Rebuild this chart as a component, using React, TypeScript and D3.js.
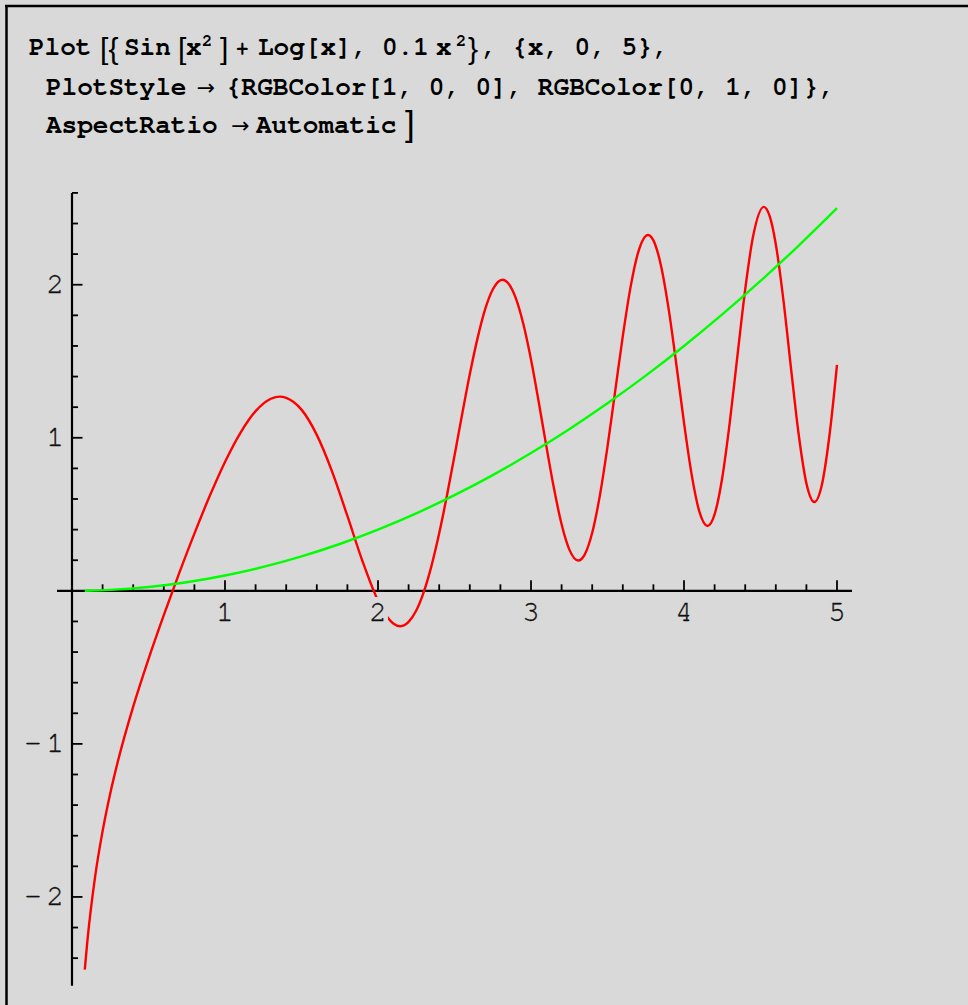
import { useRef, useEffect } from 'react'
import * as d3 from 'd3'

// Red series: Sin[x^2] + Log[x]
const redX = [
    0.0836, 0.1, 0.15, 0.2, 0.25, 0.3, 0.4, 0.5, 0.6, 0.7, 0.8, 0.9, 1.0, 1.1, 1.2, 1.3, 1.358, 1.4,
    1.5, 1.6, 1.7, 1.8, 1.9, 2.0, 2.05, 2.1, 2.146, 2.2, 2.25, 2.3, 2.35, 2.4, 2.45, 2.5, 2.55, 2.6,
    2.65, 2.7, 2.75, 2.814, 2.85, 2.9, 2.95, 3.0, 3.05, 3.1, 3.15, 3.2, 3.25, 3.309, 3.35, 3.4, 3.45,
    3.5, 3.55, 3.6, 3.65, 3.7, 3.765, 3.8, 3.85, 3.9, 3.95, 4.0, 4.05, 4.1, 4.153, 4.2, 4.25, 4.3,
    4.35, 4.4, 4.45, 4.522, 4.56, 4.6, 4.65, 4.7, 4.75, 4.8, 4.852, 4.9, 4.95, 5.0,
]
const redY = [
    -2.475, -2.293, -1.875, -1.570, -1.324, -1.114, -0.757, -0.446, -0.159, 0.114, 0.374, 0.619, 0.842,
    1.031, 1.174, 1.255, 1.269, 1.261, 1.184, 1.019, 0.779, 0.489, 0.190, -0.064, -0.155, -0.213,
    -0.231, -0.203, -0.129, -0.005, 0.165, 0.376, 0.619, 0.883, 1.154, 1.415, 1.648, 1.839, 1.969,
    2.033, 2.011, 1.914, 1.743, 1.511, 1.237, 0.947, 0.670, 0.435, 0.271, 0.198, 0.235, 0.379, 0.622,
    0.942, 1.303, 1.664, 1.981, 2.210, 2.325, 2.290, 2.123, 1.839, 1.479, 1.098, 0.759, 0.519, 0.424,
    0.500, 0.739, 1.107, 1.543, 1.970, 2.308, 2.509, 2.448, 2.265, 1.898, 1.449, 1.018, 0.702, 0.580,
    0.688, 1.010, 1.477,
]

// Green series: 0.1 x^2
const greenX = [0.0836, 0.25, 0.5, 0.75, 1.0, 1.25, 1.5, 1.75, 2.0, 2.25, 2.5, 2.75, 3.0, 3.25, 3.5, 3.75, 4.0, 4.25, 4.5, 4.75, 5.0]
const greenY = [0.0007, 0.0063, 0.025, 0.056, 0.1, 0.156, 0.225, 0.306, 0.4, 0.506, 0.625, 0.756, 0.9, 1.056, 1.225, 1.406, 1.6, 1.806, 2.025, 2.256, 2.5]

const xTickLabels = [1, 2, 3, 4, 5]
const yTickLabels = [-2, -1, 1, 2]

const MONO = 'Nimbus Mono PS, Nimbus Mono L, FreeMono, Courier New, Courier, Liberation Mono, monospace'
const SANS = 'Liberation Sans, Arial, sans-serif'
const ARROW = 'DejaVu Sans, sans-serif'
const BG = '#d9d9d9'

export default function App() {
    const svgRef = useRef<SVGSVGElement>(null)

    useEffect(() => {
        if (!svgRef.current) return
        const width = 968
        const height = 1005

        const svg = d3.select(svgRef.current)
        svg.selectAll('*').remove()
        svg.attr('width', width).attr('height', height)

        svg.append('rect').attr('width', width).attr('height', height).style('fill', BG)

        // cell frame
        svg.append('line').attr('x1', 5).attr('x2', width).attr('y1', 6).attr('y2', 6)
            .style('stroke', '#000').style('stroke-width', 2.5)
        svg.append('line').attr('x1', 6.5).attr('x2', 6.5).attr('y1', 5).attr('y2', height)
            .style('stroke', '#000').style('stroke-width', 2.5)

        // Input expression
        const t = svg.append('g').style('fill', '#000')
        const piece = (x: number, y: number, s: string, size: number, family = MONO, weight = 'bold') =>
            t.append('text').attr('x', x).attr('y', y).text(s)
                .style('font-family', family).style('font-size', `${size}px`).style('font-weight', weight)

        piece(29, 54.5, 'Plot', 26)
        piece(100, 58.7, '[', 30, SANS, 'normal')
        piece(108.5, 58.7, '{', 30, SANS, 'normal')
        piece(124, 54.5, 'Sin', 26)
        piece(178, 58.7, '[', 30, SANS, 'normal')
        piece(186, 54.5, 'x', 26)
        piece(202, 45.7, '2', 17)
        piece(220, 58.7, ']', 30, SANS, 'normal')
        piece(236, 55, '+', 21)
        piece(258, 54.5, 'Log[x],', 26)
        piece(382, 54.5, '0.1', 26)
        piece(436, 54.5, 'x', 26)
        piece(456, 45.7, '2', 17)
        piece(468, 58.7, '}', 30, SANS, 'normal')
        piece(481, 54.5, ', {x, 0, 5},', 26)

        piece(46, 95, 'PlotStyle', 26)
        piece(206, 95, '→', 22, ARROW, 'normal').attr('text-anchor', 'middle')
        piece(226, 95, '{RGBColor[1, 0, 0], RGBColor[0, 1, 0]},', 26)

        piece(46, 132.5, 'AspectRatio', 26)
        piece(240.5, 133, '→', 22, ARROW, 'normal').attr('text-anchor', 'middle')
        piece(256, 132.5, 'Automatic', 26)
        piece(405, 135.6, ']', 35, SANS, 'normal')

        // Scales
        const x = d3.scaleLinear().domain([-0.098, 5.098]).range([57, 852])
        const y = d3.scaleLinear().domain([-2.58, 2.6]).range([985.7, 192.9])

        const g = svg.append('g')

        // Axes lines
        g.append('line').attr('x1', x(-0.098)).attr('x2', x(5.098)).attr('y1', y(0)).attr('y2', y(0))
            .style('stroke', '#000').style('stroke-width', 2.2)
        g.append('line').attr('x1', x(0)).attr('x2', x(0)).attr('y1', y(2.6)).attr('y2', y(-2.58))
            .style('stroke', '#000').style('stroke-width', 2.2)

        const isMajor = (d: number) => Math.abs(d - Math.round(d)) < 1e-6

        // x ticks (pointing up)
        const xt = d3.range(1, 26).map(i => i / 5)
        g.selectAll('.xtick')
            .data(xt)
            .enter()
            .append('line')
            .attr('x1', d => x(d))
            .attr('x2', d => x(d))
            .attr('y1', y(0))
            .attr('y2', d => y(0) - (isMajor(d) ? 10.5 : 6.5))
            .style('stroke', '#000').style('stroke-width', 1.8)

        // y ticks (pointing right)
        const yt = d3.range(-12, 14).filter(i => i !== 0).map(i => i / 5)
        g.selectAll('.ytick')
            .data(yt)
            .enter()
            .append('line')
            .attr('y1', d => y(d))
            .attr('y2', d => y(d))
            .attr('x1', x(0))
            .attr('x2', d => x(0) + (isMajor(d) ? 10.5 : 6))
            .style('stroke', '#000').style('stroke-width', 1.8)

        // Curves
        const line = d3.line<[number, number]>()
            .x(d => x(d[0]))
            .y(d => y(d[1]))
            .curve(d3.curveMonotoneX)

        g.append('path')
            .datum(redX.map((v, i) => [v, redY[i]] as [number, number]))
            .attr('d', line)
            .style('fill', 'none').style('stroke', '#ff0000').style('stroke-width', 2.4)

        g.append('path')
            .datum(greenX.map((v, i) => [v, greenY[i]] as [number, number]))
            .attr('d', line)
            .style('fill', 'none').style('stroke', '#00ff00').style('stroke-width', 2.4)

        // x tick labels, with background boxes like the original
        g.selectAll('.xbg')
            .data(xTickLabels)
            .enter()
            .append('rect')
            .attr('x', d => x(d) - 10)
            .attr('y', 597)
            .attr('width', 20)
            .attr('height', 28)
            .style('fill', BG)

        const labelStyle = (sel: any) => sel
            .style('font-family', MONO)
            .style('font-size', '29px')
            .style('fill', '#111')
            .style('stroke', '#111')
            .style('stroke-width', 0.35)

        g.selectAll('.xlab')
            .data(xTickLabels)
            .enter()
            .append('text')
            .attr('x', d => x(d))
            .attr('y', 620.5)
            .attr('text-anchor', 'middle')
            .call(labelStyle)
            .text(d => `${d}`)

        const ylab = g.selectAll('.ylab')
            .data(yTickLabels)
            .enter()
            .append('text')
            .attr('x', 64)
            .attr('y', d => y(d) + 8.5)
            .attr('text-anchor', 'end')
            .call(labelStyle)

        ylab.filter(d => d < 0).append('tspan').text('−')
        ylab.append('tspan').attr('dx', d => (d < 0 ? 5 : 0)).text(d => `${Math.abs(d)}`)
    }, [])

    return (
        <div style={{ position: 'absolute', left: 0, top: 0 }}>
            <svg ref={svgRef} style={{ display: 'block' }} />
        </div>
    )
}
